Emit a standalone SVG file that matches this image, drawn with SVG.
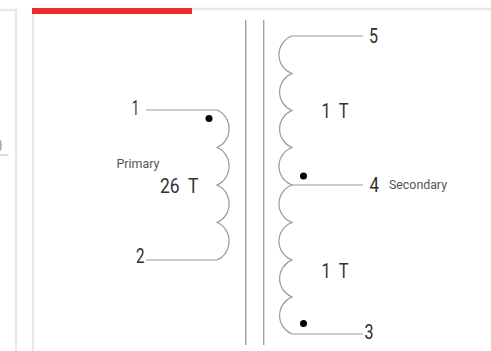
<svg xmlns="http://www.w3.org/2000/svg" width="491" height="351" viewBox="0 0 491 351">
<style>
.frame{fill:none;stroke:#e8e8e8;stroke-width:2.4}
.wire{fill:none;stroke:#999;stroke-width:1.200}
.core{fill:none;stroke:#a0a0a0;stroke-width:1.400}
.num{font-family:"Roboto",sans-serif;font-size:20px;fill:#2c2c2c}
.lab{font-family:"Roboto",sans-serif;font-size:20px;fill:#333}
.sm{font-family:"Roboto",sans-serif;font-size:12.500px;fill:#555}
.dot{fill:#000}
</style>
<rect width="491" height="351" fill="#fff"/>
<g id="frame">
<path class="frame" d="M0 10H16V351"/>
<path class="frame" d="M33 351V9H491"/>
<rect x="32" y="8" width="160" height="6" fill="#ee2a2a"/>
<path d="M0 155H8.500" stroke="#bbb" stroke-width="1"/>
<text x="-8" y="152" font-family="Roboto,sans-serif" font-size="19" fill="#aaa">0</text>
</g>
<g id="core">
<path class="core" d="M245.700 20V345M263.700 20V345"/>
</g>
<g id="connectors">
<path class="wire" d="M146 110H217A18.500 20 0 0 1 217 147.500A18.500 20 0 0 1 217 185A18.500 20 0 0 1 217 222.500A18.500 20 0 0 1 217 260H146"/>
<path class="wire" d="M363 36H292A20 20 0 0 0 292 73.500A20 20 0 0 0 292 110.500A20 20 0 0 0 292 147.500A20 20 0 0 0 292 185A20 20 0 0 0 292 222.500A20 20 0 0 0 292 260A20 20 0 0 0 292 297A20 20 0 0 0 292 334H363"/>
<path class="wire" d="M292 185H363"/>
</g>
<g id="primary">
<circle class="dot" cx="209" cy="118.500" r="3.500"/>
<text class="num" x="132" y="115" textLength="7" lengthAdjust="spacingAndGlyphs">1</text>
<text class="num" x="136" y="263" textLength="8.500" lengthAdjust="spacingAndGlyphs">2</text>
<text class="lab" x="160" y="193" textLength="38.500" lengthAdjust="spacingAndGlyphs" style="word-spacing:5px">26 T</text>
<text class="sm" x="116.500" y="168" textLength="43" lengthAdjust="spacingAndGlyphs">Primary</text>
</g>
<g id="secondary">
<circle class="dot" cx="303.500" cy="176" r="3.500"/>
<circle class="dot" cx="303.500" cy="323.500" r="3.500"/>
<text class="num" x="369" y="43" textLength="9" lengthAdjust="spacingAndGlyphs">5</text>
<text class="num" x="369.500" y="192" textLength="9.500" lengthAdjust="spacingAndGlyphs">4</text>
<text class="num" x="364.500" y="339" textLength="9" lengthAdjust="spacingAndGlyphs">3</text>
<text class="lab" x="321.500" y="118" textLength="27" lengthAdjust="spacingAndGlyphs" style="word-spacing:5px">1 T</text>
<text class="lab" x="321.500" y="278" textLength="27" lengthAdjust="spacingAndGlyphs" style="word-spacing:5px">1 T</text>
<text class="sm" x="389" y="189" textLength="58" lengthAdjust="spacingAndGlyphs">Secondary</text>
</g>
</svg>
